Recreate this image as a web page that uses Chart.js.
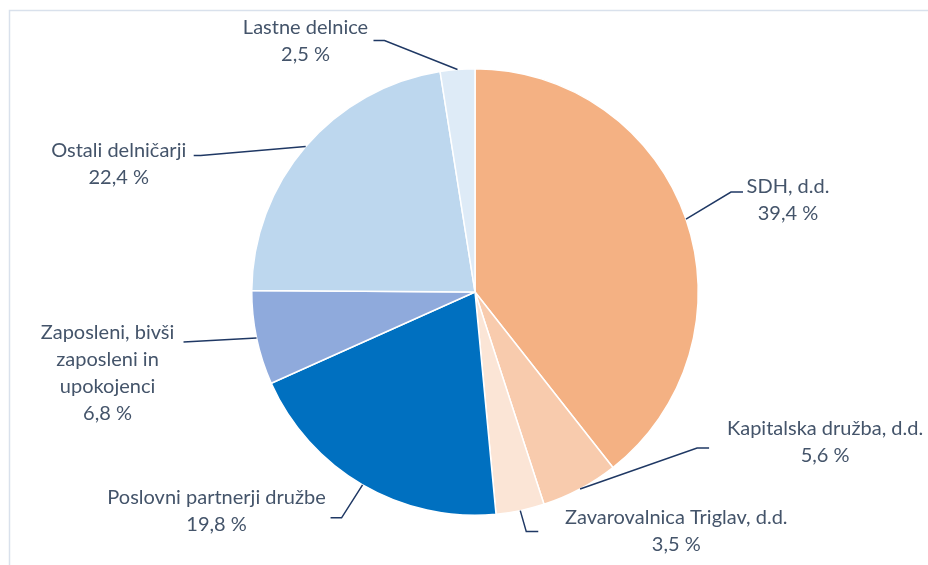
<!DOCTYPE html>
<html lang="sl">
<head>
<meta charset="utf-8">
<script src="https://cdn.jsdelivr.net/npm/chart.js@4.4.1/dist/chart.umd.min.js"></script>
<style>
  html, body { margin: 0; padding: 0; background: #ffffff; }
  #wrap { position: relative; width: 928px; height: 565px; }
</style>
</head>
<body>
<div id="wrap"><canvas id="pieChart" width="928" height="565"></canvas></div>
<script>
// Podatki o lastniški strukturi
const categories = [
  ['SDH, d.d.'],
  ['Kapitalska družba, d.d.'],
  ['Zavarovalnica Triglav, d.d.'],
  ['Poslovni partnerji družbe'],
  ['Zaposleni, bivši', 'zaposleni in', 'upokojenci'],
  ['Ostali delničarji'],
  ['Lastne delnice']
];
const shares = [39.4, 5.6, 3.5, 19.8, 6.8, 22.4, 2.5];
const sliceColors = ['#F4B183', '#F8CBAD', '#FBE5D6', '#0070C0', '#8FAADC', '#BDD7EE', '#DEEBF7'];

// Postavitev oznak glede na točko na robu izseka (pregib, konec črte, središče besedila)
const labelLayout = [
  { elbow: [45, -27], end: [57, -27], text: [102, -32] },
  { elbow: [117, -41], end: [129, -41], text: [245, -60] },
  { elbow: [6, 21], end: [18, 21], text: [156, 7] },
  { elbow: [-21, 33], end: [-32, 33], text: [-146, 13] },
  { elbow: [-73, 4], end: [-73, 4], text: [-149, -5] },
  { elbow: [-105, 9], end: [-112, 9], text: [-187, 4] },
  { elbow: [-73, -29], end: [-84, -29], text: [-152, -42] }
];

const TEXT_COLOR = '#44546A';
const LINE_COLOR = '#1F3864';
const FONT = '20px Lato, "Open Sans", sans-serif';
const LINE_HEIGHT = 27;

const formatShare = (v) => v.toFixed(1).replace('.', ',') + ' %';

// Okvir grafikona
const framePlugin = {
  id: 'frame',
  beforeDraw(chart) {
    const ctx = chart.ctx;
    ctx.save();
    ctx.strokeStyle = '#D9E1EC';
    ctx.lineWidth = 1.5;
    ctx.strokeRect(9.5, 10.5, 960, 600);
    ctx.restore();
  }
};

// Oznake s črtami
const leaderLabels = {
  id: 'leaderLabels',
  afterDatasetsDraw(chart) {
    const ctx = chart.ctx;
    const meta = chart.getDatasetMeta(0);
    ctx.save();
    meta.data.forEach((arc, i) => {
      const mid = (arc.startAngle + arc.endAngle) / 2;
      const ax = arc.x + Math.cos(mid) * arc.outerRadius;
      const ay = arc.y + Math.sin(mid) * arc.outerRadius;
      const lay = labelLayout[i];

      ctx.strokeStyle = LINE_COLOR;
      ctx.lineWidth = 1.5;
      ctx.beginPath();
      ctx.moveTo(ax, ay);
      ctx.lineTo(ax + lay.elbow[0], ay + lay.elbow[1]);
      ctx.lineTo(ax + lay.end[0], ay + lay.end[1]);
      ctx.stroke();

      const lines = categories[i].concat([formatShare(shares[i])]);
      ctx.fillStyle = TEXT_COLOR;
      ctx.font = FONT;
      ctx.textAlign = 'center';
      ctx.textBaseline = 'middle';
      lines.forEach((t, k) => {
        ctx.fillText(t, ax + lay.text[0], ay + lay.text[1] + k * LINE_HEIGHT);
      });
    });
    ctx.restore();
  }
};

new Chart(document.getElementById('pieChart'), {
  type: 'pie',
  data: {
    labels: categories,
    datasets: [{
      data: shares,
      backgroundColor: sliceColors,
      borderColor: '#ffffff',
      borderWidth: 1.5
    }]
  },
  options: {
    responsive: false,
    animation: false,
    layout: { padding: { left: 251, right: 229, top: 68, bottom: 49 } },
    plugins: {
      legend: { display: false },
      tooltip: { enabled: false }
    }
  },
  plugins: [framePlugin, leaderLabels]
});
</script>
</body>
</html>
